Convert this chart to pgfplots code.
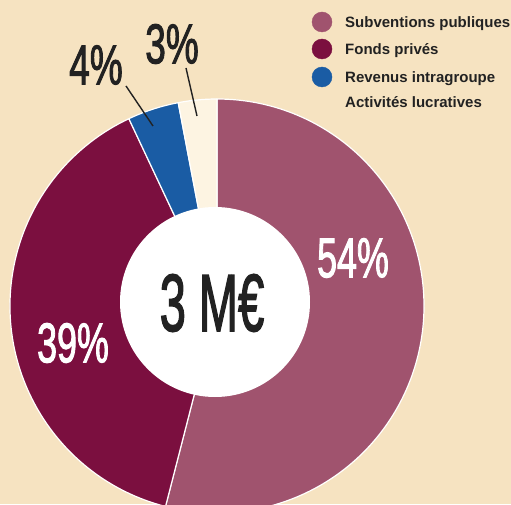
\documentclass[border=0pt]{standalone}
\usepackage{pgfplots}
\pgfplotsset{compat=1.18}
\usepackage{pgfplotstable}
\usepackage{graphicx}
\usepackage{fontspec}
\setmainfont{Liberation Sans}
\newfontfamily\numfont{Liberation Sans}[BoldFont={Liberation Sans}, BoldFeatures={FakeBold=2.2}]
\definecolor{bg}{HTML}{F6E3C1}
\definecolor{mauve}{HTML}{A0536E}
\definecolor{burg}{HTML}{7B0F3F}
\definecolor{blu}{HTML}{1A5CA4}
\definecolor{creme}{HTML}{FDF4E2}
\definecolor{ink}{HTML}{222222}
\pgfplotstableread{
label value
Subventions 54
Fonds 39
Revenus 4
Activites 3
}\datatable
\newcommand\cond[3]{\scalebox{#1}[1]{\fontsize{#2}{#2}\numfont\bfseries #3}}
\begin{document}
\begin{tikzpicture}
\pgfplotstablegetelem{0}{value}\of\datatable \let\vA\pgfplotsretval
\pgfplotstablegetelem{1}{value}\of\datatable \let\vB\pgfplotsretval
\pgfplotstablegetelem{2}{value}\of\datatable \let\vC\pgfplotsretval
\pgfplotstablegetelem{3}{value}\of\datatable \let\vD\pgfplotsretval
\pgfmathsetmacro\tA{90}
\pgfmathsetmacro\tB{\tA-3.6*\vA}
\pgfmathsetmacro\tC{\tB-3.6*\vB}
\pgfmathsetmacro\tD{\tC-3.6*\vC}
\pgfmathsetmacro\tE{\tD-3.6*\vD}
\begin{axis}[
  x=1pt, y=1pt,
  xmin=0, xmax=511, ymin=0, ymax=504,
  hide axis, clip=true,
]
\fill[bg] (axis cs:0,0) rectangle (axis cs:511,504);
\coordinate (bbll) at (axis cs:0,0);
\coordinate (bbur) at (axis cs:511,504);
% sectors
\filldraw[mauve, draw=white, line width=1.2pt, line join=round] (axis cs:217,198) -- ++(\tA:207pt) arc[start angle=\tA, end angle=\tB, radius=207pt] -- cycle;
\filldraw[burg, draw=white, line width=1.2pt, line join=round] (axis cs:217,198) -- ++(\tB:207pt) arc[start angle=\tB, end angle=\tC, radius=207pt] -- cycle;
\filldraw[blu, draw=white, line width=1.2pt, line join=round] (axis cs:217,198) -- ++(\tC:207pt) arc[start angle=\tC, end angle=\tD, radius=207pt] -- cycle;
\filldraw[creme, draw=white, line width=1.2pt, line join=round] (axis cs:217,198) -- ++(\tD:207pt) arc[start angle=\tD, end angle=\tE, radius=207pt] -- cycle;
\fill[white] (axis cs:215,202) circle[radius=95pt];
% leader lines
\draw[ink, line width=1.4pt] (axis cs:126,418) -- (axis cs:153,378);
\draw[ink, line width=1.4pt] (axis cs:186,436) -- (axis cs:197,388);
% labels
\node[ink, inner sep=0pt] at (axis cs:212,201) {\cond{0.58}{81pt}{3 M€}};
\node[white, inner sep=0pt] at (axis cs:353,246) {\cond{0.64}{56pt}{54\%}};
\node[white, inner sep=0pt] at (axis cs:73,161) {\cond{0.64}{56pt}{39\%}};
\node[ink, inner sep=0pt] at (axis cs:96,439) {\cond{0.66}{56pt}{4\%}};
\node[ink, inner sep=0pt] at (axis cs:172,460) {\cond{0.66}{56pt}{3\%}};
% legend
\addplot[only marks, mark=*, mark size=10pt, mauve, mark options={draw=mauve, fill=mauve}] coordinates {(322,482)};
\addplot[only marks, mark=*, mark size=10pt, burg, mark options={draw=burg, fill=burg}] coordinates {(322,455)};
\addplot[only marks, mark=*, mark size=10pt, blu, mark options={draw=blu, fill=blu}] coordinates {(322,427)};
\node[ink, anchor=base west, inner sep=0pt, font=\fontsize{15}{15}\selectfont\bfseries] at (axis cs:345,476) {Subventions publiques};
\node[ink, anchor=base west, inner sep=0pt, font=\fontsize{15}{15}\selectfont\bfseries] at (axis cs:345,449) {Fonds privés};
\node[ink, anchor=base west, inner sep=0pt, font=\fontsize{15}{15}\selectfont\bfseries] at (axis cs:345,421) {Revenus intragroupe};
\node[ink, anchor=base west, inner sep=0pt, font=\fontsize{15}{15}\selectfont\bfseries] at (axis cs:345,396) {Activités lucratives};
\end{axis}
\pgfresetboundingbox
\path[use as bounding box] (bbll) rectangle (bbur);
\end{tikzpicture}
\end{document}
